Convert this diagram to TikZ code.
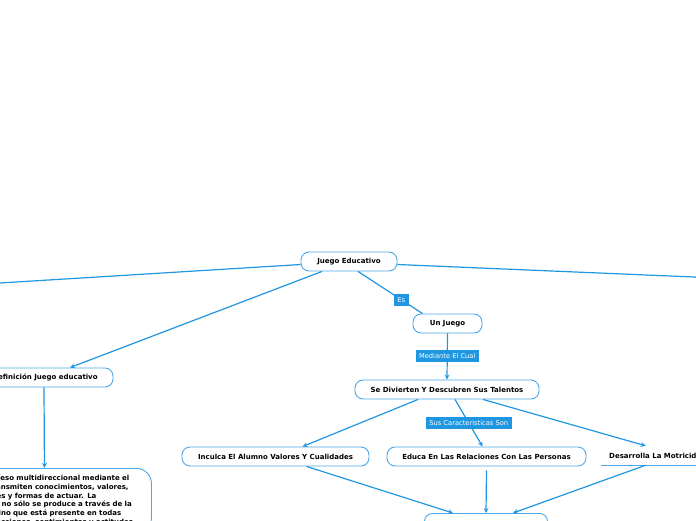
\documentclass[tikz,border=0pt]{standalone}
\usepackage{fontspec}
\setmainfont{DejaVu Sans}
\usetikzlibrary{arrows,shapes,positioning}
\usepackage{xcolor}
\definecolor{mmblue}{RGB}{30,150,225}
\definecolor{mmedge}{RGB}{75,168,232}
\tikzstyle{topic} = [rectangle, rounded corners=8pt, minimum height=19pt, text centered, draw=mmedge, fill=white, line width=0.9pt, inner xsep=0pt, font=\fontsize{7}{8}\selectfont\bfseries]
\tikzstyle{textbox} = [rectangle, rounded corners=15pt, draw=mmedge, fill=white, line width=0.9pt, align=left, text width=178pt, inner xsep=14pt, inner ysep=7pt, font=\fontsize{7}{8.7}\selectfont\bfseries]
\tikzstyle{tag} = [rectangle, fill=mmblue, text=white, inner xsep=3.5pt, minimum height=12pt, font=\fontsize{6.7}{7}\selectfont]
\tikzstyle{arrow} = [line width=1.2pt,->,>=stealth,color=mmblue]
\tikzstyle{link} = [line width=1.2pt,color=mmblue]

\begin{document}
\begin{tikzpicture}[x=1pt,y=-1pt]
\useasboundingbox (0,0) rectangle (696,520);
\clip (0,0) rectangle (696,520);

\node[topic, minimum width=96pt] (juego) at (349,261.5) {Juego Educativo};
\node[topic, minimum width=69pt] (unjuego) at (447.5,323.5) {Un Juego};
\node[topic, minimum width=184pt] (divierten) at (447,389.5) {Se Divierten Y Descubren Sus Talentos};
\node[topic, minimum width=187pt] (inculca) at (275.5,456.5) {Inculca El Alumno Valores Y Cualidades};
\node[topic, minimum width=199pt] (educa) at (486.5,456.5) {Educa En Las Relaciones Con Las Personas};
\node[anchor=west, minimum height=19pt, inner xsep=8pt, font=\fontsize{7}{8}\selectfont\bfseries] (motricidad) at (601,455.5) {Desarrolla La Motricidad};
\node[topic, minimum width=136pt] (definicion) at (45,377.5) {Definición Juego educativo};
\node[textbox, anchor=north west] (concepto) at (-55,468) {Es un proceso multidireccional mediante el\\cual se transmiten conocimientos, valores,\\costumbres y formas de actuar. La\\educación no sólo se produce a través de la\\palabra, sino que está presente en todas\\nuestras acciones, sentimientos y actitudes.};
\node[topic, minimum width=123pt, anchor=north] (resultado) at (486,513) {};

\coordinate (offleft) at (-10,283.6);
\coordinate (offright) at (706,277.5);

\draw[mmedge, line width=0.9pt] (motricidad.south west) -- (motricidad.south east);

\draw[link] ([yshift=-3pt]juego.west) -- (offleft);
\draw[link] ([yshift=-3pt]juego.east) -- (offright);
\draw[arrow] ([xshift=-27pt]juego.south) -- ([xshift=25pt]definicion.north);
\draw[arrow] ([xshift=-1pt]definicion.south) -- ([xshift=-4pt]concepto.north);
\draw[link] ([xshift=9pt]juego.south) -- node[tag, pos=0.67] {Es} ([xshift=-25pt]unjuego.north);
\draw[arrow] (unjuego.south) -- node[tag, pos=0.49] {Mediante El Cual} (divierten.north);
\draw[arrow] ([xshift=-29pt]divierten.south) -- ([xshift=27pt]inculca.north);
\draw[arrow] ([xshift=8pt]divierten.south) -- node[tag, pos=0.5] {Sus Caracteristicas Son} ([xshift=-4pt]educa.north);
\draw[arrow] ([xshift=36pt]divierten.south) -- ([xshift=-12pt]motricidad.north);
\draw[arrow] ([xshift=31pt]inculca.south) -- ([xshift=-33pt]resultado.north);
\draw[arrow] ([yshift=-4pt]educa.south) -- (resultado.north);
\draw[arrow] ([xshift=-12pt]motricidad.south) -- ([xshift=27pt]resultado.north);
\end{tikzpicture}
\end{document}
